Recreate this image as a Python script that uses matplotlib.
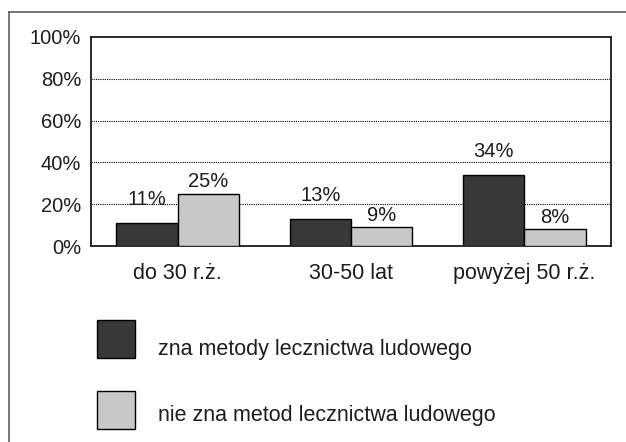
import matplotlib.pyplot as plt
from matplotlib.patches import Rectangle
from matplotlib.lines import Line2D
import numpy as np

plt.rcParams['font.family'] = ['Liberation Sans', 'DejaVu Sans']

categories = ['do 30 r.ż.', '30-50 lat', 'powyżej 50 r.ż.']
zna = [11, 13, 34]
nie_zna = [25, 9, 8]
series_names = ['zna metody lecznictwa ludowego', 'nie zna metod lecznictwa ludowego']
yticks = [0, 20, 40, 60, 80, 100]

DARK = '#383838'
LIGHT = '#c8c8c8'
TXT = '#1e1e1e'
W, H = 626, 442
NUM_FS = 14.5
TXT_FS = 15.5

fig = plt.figure(figsize=(6.26, 4.42), dpi=100)
# axes box in pixels: left 91, right 611, top 37, bottom 246
ax = fig.add_axes([91 / W, 1 - 246 / H, (611 - 91) / W, (246 - 37) / H])

x = np.arange(len(categories))
bw = 0.354
b1 = ax.bar(x - bw / 2, zna, bw, color=DARK, edgecolor='black', linewidth=1, zorder=3)
b2 = ax.bar(x + bw / 2, nie_zna, bw, color=LIGHT, edgecolor='black', linewidth=1, zorder=3)

# value labels: dark series sits higher above its bars than the light one
for bars, vals, off in ((b1, zna, 8.5), (b2, nie_zna, 3.0)):
    for r, v in zip(bars, vals):
        ax.text(r.get_x() + r.get_width() / 2, v + off, f'{v}%', ha='center', va='baseline',
                fontsize=NUM_FS, color=TXT, zorder=4)

ax.set_xlim(-0.5, 2.5)
ax.set_ylim(0, 100)
ax.set_yticks(yticks)
ax.set_yticklabels([f'{t}%' for t in yticks], fontsize=NUM_FS, color=TXT)
ax.set_xticks(x)
ax.set_xticklabels(categories, fontsize=TXT_FS, color=TXT)
ax.tick_params(axis='both', length=0)
ax.tick_params(axis='y', pad=7)
ax.tick_params(axis='x', pad=12)
for t in yticks[1:-1]:
    ax.axhline(t, color='black', linestyle=(0, (1, 1)), linewidth=0.8, zorder=1)
for s in ax.spines.values():
    s.set_linewidth(1.3)
    s.set_color('#1a1a1a')

# outer frame (top and left edges)
fig.add_artist(Line2D([9 / W, 1], [1 - 12 / H, 1 - 12 / H], transform=fig.transFigure,
                      color='#606060', linewidth=1.2))
fig.add_artist(Line2D([9 / W, 9 / W], [0, 1 - 12 / H], transform=fig.transFigure,
                      color='#606060', linewidth=1.2))

# legend drawn by hand
for (top, bot), col, name, ty in (((320, 358), DARK, series_names[0], 350),
                                   ((391, 429), LIGHT, series_names[1], 416)):
    fig.add_artist(Rectangle((97 / W, 1 - bot / H), 38 / W, (bot - top) / H,
                             transform=fig.transFigure, facecolor=col,
                             edgecolor='black', linewidth=1))
    fig.text(158 / W, 1 - ty / H, name, ha='left', va='center', fontsize=TXT_FS, color=TXT)

fig.savefig('out.png', dpi=100)
